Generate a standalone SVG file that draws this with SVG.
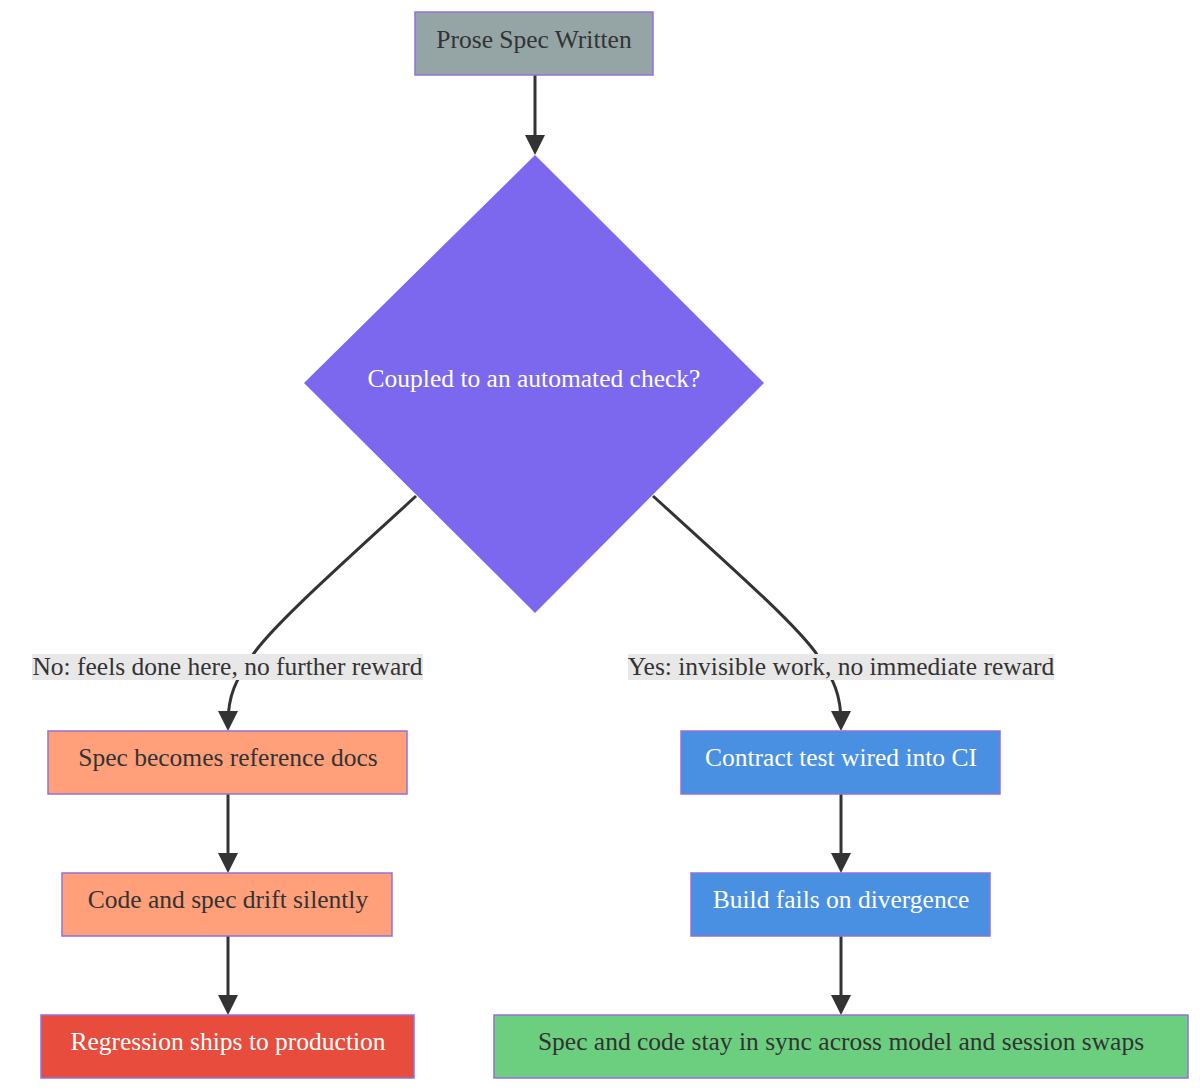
<svg xmlns="http://www.w3.org/2000/svg" width="1200" height="1090" viewBox="0 0 1200 1090">
<style>
text{font-family:"Liberation Serif","Times New Roman",serif;font-size:25.5px;text-anchor:middle;dominant-baseline:central}
.box{stroke:#9370db;stroke-width:1.5}
.dark{fill:#333333}
.light{fill:#ffffff}
.edge{fill:none;stroke:#333333;stroke-width:3;marker-end:url(#arrow)}
.lblbg{fill:#e8e8e8}
</style>
<defs>
<marker id="arrow" viewBox="0 0 10 10" refX="6" refY="5" markerWidth="20" markerHeight="20" markerUnits="userSpaceOnUse" orient="auto">
<path d="M0,0 L10,5 L0,10 z" fill="#333333"/>
</marker>
</defs>
<rect width="1200" height="1090" fill="#ffffff"/>
<g id="connectors">
<path class="edge" d="M535,75 L535,147"/>
<path class="edge" d="M416,496 C340,566 272,626 252,656 C236,680 228,695 228,723"/>
<path class="edge" d="M653,496 C730,566 798,626 818,656 C834,680 841,695 841,723"/>
<path class="edge" d="M228,794 L228,865"/>
<path class="edge" d="M228,936 L228,1007"/>
<path class="edge" d="M841,794 L841,865"/>
<path class="edge" d="M841,936 L841,1007"/>
<g id="label-no"><rect class="lblbg" x="32" y="654" width="391" height="26"/><text class="dark" x="227.5" y="666">No: feels done here, no further reward</text></g>
<g id="label-yes"><rect class="lblbg" x="628" y="654" width="426" height="26"/><text class="dark" x="841" y="666">Yes: invisible work, no immediate reward</text></g>
</g>
<g id="prose"><rect class="box" x="415" y="12" width="238" height="63" fill="#95a5a6"/><text class="dark" x="534" y="39">Prose Spec Written</text></g>
<g id="decision"><polygon points="535,155 764,383 535,613 304,383" fill="#7b68ee"/><text class="light" x="534" y="378">Coupled to an automated check?</text></g>
<g id="refdocs"><rect class="box" x="48" y="731" width="359" height="63" fill="#ffa07a"/><text class="dark" x="228" y="757">Spec becomes reference docs</text></g>
<g id="drift"><rect class="box" x="62" y="873" width="330" height="63" fill="#ffa07a"/><text class="dark" x="228" y="899">Code and spec drift silently</text></g>
<g id="regression"><rect class="box" x="41" y="1015" width="373" height="63" fill="#e74c3c"/><text class="light" x="228" y="1041">Regression ships to production</text></g>
<g id="contract"><rect class="box" x="681" y="731" width="319" height="63" fill="#4a90e2"/><text class="light" x="841" y="757">Contract test wired into CI</text></g>
<g id="buildfail"><rect class="box" x="691" y="873" width="299" height="63" fill="#4a90e2"/><text class="light" x="841" y="899">Build fails on divergence</text></g>
<g id="sync"><rect class="box" x="494" y="1015" width="694" height="63" fill="#6bcf7f"/><text class="dark" x="841" y="1041">Spec and code stay in sync across model and session swaps</text></g>
</svg>
